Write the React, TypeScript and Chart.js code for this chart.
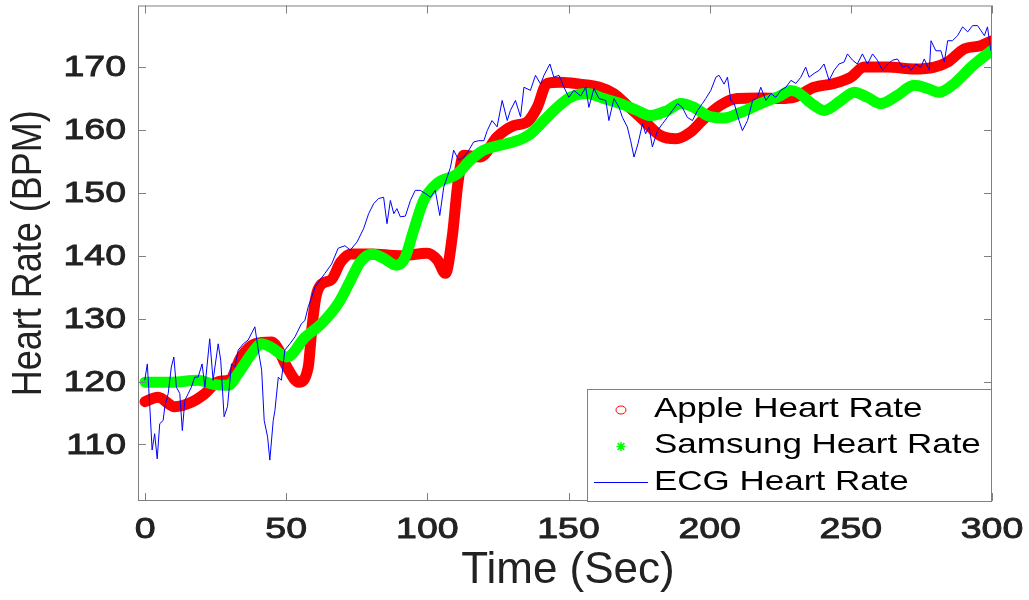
import React, { useEffect, useRef } from "react";
import { Chart, registerables } from "chart.js";

Chart.register(...registerables);

// ---------- data ----------
const xTicks = [0, 50, 100, 150, 200, 250, 300];
const yTicks = [110, 120, 130, 140, 150, 160, 170];

const seriesLabels = ["Apple Heart Rate", "Samsung Heart Rate", "ECG Heart Rate"];
const xTitle = "Time (Sec)";
const yTitle = "Heart Rate (BPM)";

const appleTime = [0, 4.6, 10.5, 16.4, 21, 26, 30, 34, 39, 44.8, 47, 50, 54.5, 57.8, 59.1, 60.5, 62.5, 66, 69.3, 73, 79.8, 90.4, 99.9, 103.6, 106.4, 108.8, 110.8, 112.9, 118.8, 124.7, 130.6, 135.4, 138.9, 142.4, 147, 154, 161, 166, 170.8, 176.7, 182.6, 188, 193.3, 198, 204, 209.8, 218, 225.2, 229.9, 237, 244, 250, 254.7, 263, 272.5, 279.6, 284.3, 290.2, 296, 300];
const appleBpm = [116.8, 117.5, 116, 116.7, 118, 120, 120.3, 123.9, 126, 126.3, 125.3, 122.5, 119.9, 122.3, 128.5, 133.4, 135.5, 136.2, 139, 140.3, 140.3, 140, 140.4, 139.3, 137.2, 143, 151.5, 156, 155.7, 158.9, 160.7, 161.3, 163.6, 167.4, 167.6, 167.3, 166.8, 165.8, 163.9, 161.5, 159.1, 158.6, 159.7, 161.8, 164, 165, 165.1, 165, 165.2, 166.8, 167.4, 168.4, 170, 170, 169.7, 170, 170.8, 172.9, 173.4, 174.2];

const samsungTime = [0, 9.3, 18.8, 24.7, 29.4, 33, 37.7, 41.2, 44.8, 50.2, 56.6, 62.5, 68.4, 72.7, 76.2, 80.5, 84.5, 89, 92, 95.1, 98.7, 103.4, 110.5, 115.2, 120, 125.9, 131.8, 136.5, 141.2, 146, 150.7, 156.6, 162.5, 168.4, 174.4, 179, 185, 189.7, 194.4, 199.2, 205, 211, 218, 225.2, 228.7, 231.1, 237, 240.5, 246.5, 251.2, 255.9, 260.6, 266.5, 272.4, 277.2, 281.3, 286.7, 292.6, 300];
const samsungBpm = [119.9, 119.9, 120.2, 119.5, 119.4, 121.3, 124.4, 126, 125.4, 123.9, 127, 129.2, 132.4, 136, 139, 140.3, 139.6, 138.5, 139.6, 144, 148.8, 151.5, 153, 155.2, 156.8, 157.6, 158.3, 159.4, 161.5, 163.6, 165.2, 165.8, 165, 164.2, 163.1, 162.3, 163.1, 164.2, 163.6, 162.3, 161.9, 162.8, 164.2, 165.5, 166.3, 166, 163.9, 163.1, 164.7, 166, 165.2, 164.2, 165.5, 167.1, 166.6, 166, 167.4, 170, 172.7];

const ecgTime = [-0.1, 0.8, 1.7, 2.5, 3.4, 4.3, 5.2, 6.4, 7.0, 8.2, 9.3, 10.2, 11.1, 12.3, 13.2, 14.1, 15.3, 16.4, 17.6, 18.8, 20.2, 21.2, 22.9, 24.1, 25.9, 26.8, 28.0, 29.2, 30.6, 31.8, 33.0, 34.8, 36.5, 38.9, 40.1, 41.3, 42.2, 43.4, 44.2, 45.4, 46.0, 47.2, 48.3, 49.5, 51.3, 53.1, 55.4, 56.6, 57.8, 59.0, 60.2, 61.9, 63.7, 66.1, 68.4, 70.8, 72.7, 75.1, 77.4, 79.2, 81.0, 82.7, 84.5, 85.7, 86.9, 88.1, 89.2, 90.4, 92.2, 94.0, 95.7, 97.5, 99.3, 101.1, 102.8, 104.4, 105.8, 107.0, 108.2, 109.3, 111.1, 112.9, 114.7, 116.4, 118.2, 120.0, 121.2, 122.9, 124.7, 126.5, 128.3, 129.4, 131.2, 133.0, 134.2, 136.5, 138.3, 140.1, 141.3, 143.4, 144.8, 146.6, 148.4, 150.1, 151.9, 154.3, 156.1, 157.2, 159.0, 160.8, 163.2, 164.3, 166.1, 167.9, 169.1, 170.8, 172.0, 173.2, 174.6, 176.2, 177.3, 178.5, 179.7, 181.5, 183.3, 185.0, 186.8, 188.6, 190.3, 192.1, 193.9, 195.7, 197.4, 198.6, 200.4, 202.2, 203.3, 205.1, 206.3, 207.5, 208.7, 210.4, 211.6, 213.4, 215.2, 216.9, 218.1, 219.9, 221.7, 223.4, 225.2, 227.0, 228.8, 230.5, 232.3, 234.0, 235.2, 237.0, 238.8, 240.5, 242.3, 244.1, 245.8, 247.6, 248.8, 250.6, 252.3, 254.1, 255.9, 257.7, 259.4, 261.2, 263.0, 264.8, 266.5, 268.3, 270.1, 271.3, 273.0, 274.8, 276.0, 277.8, 278.4, 280.1, 281.9, 283.1, 284.3, 286.0, 287.8, 289.6, 291.4, 293.1, 294.9, 296.1, 297.3, 298.4, 299.6];
const ecgBpm = [120.2, 122.8, 115.9, 109.1, 111.7, 107.7, 113.3, 113.8, 116, 118.1, 122.3, 123.9, 119.1, 118.1, 112.2, 117, 118.1, 119.1, 120.7, 120.7, 122.8, 119.1, 126.8, 120.2, 126, 123.4, 114.4, 116, 122.8, 122.3, 125, 126, 126.6, 128.7, 125, 121.8, 113.8, 111.2, 107.5, 113.8, 115.4, 120.7, 120.2, 125, 126, 127.1, 129.2, 129.7, 131.9, 133.4, 135, 136.1, 137.2, 138.7, 141.2, 141.6, 140.9, 142.2, 144.3, 146.7, 148.3, 149.1, 149.3, 145.1, 148.8, 146.7, 147.5, 146.2, 146.3, 148.8, 150.4, 150.4, 149.9, 149.3, 150.4, 146.4, 150.9, 152.5, 154.1, 156.8, 155.2, 155.7, 156.8, 158.1, 158.3, 158.3, 159.9, 161.5, 160.5, 164.7, 161.5, 163.1, 164.7, 162.1, 166.8, 166.3, 168.7, 167.3, 168.7, 170.5, 168.4, 168.7, 166.8, 165.2, 166.3, 165.4, 166.8, 163.6, 166.6, 165, 164.7, 161.5, 165, 163.6, 162, 160.5, 158.3, 155.7, 157.8, 161, 159.4, 160.5, 157.3, 159.9, 161, 162, 163.1, 164.2, 163.6, 162, 161.5, 163.1, 164.2, 165, 166.3, 168.4, 168.7, 167.3, 168.4, 164.7, 164.2, 161.5, 159.9, 161.5, 164.7, 165.2, 166.8, 164.7, 165.8, 165.2, 166.3, 166.8, 167.9, 167.4, 168.4, 170, 168.4, 169, 169.5, 170.5, 167.9, 169.5, 170.5, 170.8, 172.1, 171.1, 170.5, 172.1, 170.5, 172.1, 171.1, 169.5, 170.5, 171.1, 171.3, 170, 170.3, 169.5, 170.5, 170, 171.3, 169.5, 174.2, 172.6, 172.6, 170.8, 174.2, 174.2, 175, 176.4, 175.6, 176.6, 176.6, 175.8, 175, 176.4, 172.6];

// ---------- styles ----------
const W = 1029;
const H = 600;
const AREA = { left: 138, top: 5, right: 992, bottom: 501 };
const AXIS_COLOR = "#808080";
const TEXT_COLOR = "#222222";
const FONT = "'Liberation Sans', Arial, sans-serif";
const RED = "#ff0000";
const GREEN = "#00ff00";
const BLUE = "#0000ff";
const TEXT_STRETCH = 1.25;

const pts = (xs: number[], ys: number[]) => xs.map((x, i) => ({ x, y: ys[i] }));

function stretchedText(ctx: CanvasRenderingContext2D, text: string, x: number, y: number, align: CanvasTextAlign, stroke = 0) {
  ctx.save();
  ctx.translate(x, y);
  ctx.scale(TEXT_STRETCH, 1);
  ctx.textAlign = align;
  ctx.fillText(text, 0, 0);
  if (stroke > 0) {
    ctx.lineWidth = stroke;
    ctx.strokeStyle = ctx.fillStyle as string;
    ctx.strokeText(text, 0, 0);
  }
  ctx.restore();
}

const matlabAxes = {
  id: "matlabAxes",
  afterDraw(chart: any) {
    const { ctx, chartArea: a, scales } = chart;
    const xs = scales.x;
    const ys = scales.y;
    ctx.save();

    // box
    ctx.strokeStyle = AXIS_COLOR;
    ctx.lineWidth = 1;
    ctx.strokeRect(a.left + 0.5, a.top + 0.5, a.right - a.left - 1, a.bottom - a.top - 1);

    // inward ticks on all four sides
    const TL = 8;
    ctx.beginPath();
    xTicks.forEach((v) => {
      const px = Math.round(xs.getPixelForValue(v)) + 0.5;
      ctx.moveTo(px, a.bottom);
      ctx.lineTo(px, a.bottom - TL);
      ctx.moveTo(px, a.top);
      ctx.lineTo(px, a.top + TL);
    });
    yTicks.forEach((v) => {
      const py = Math.round(ys.getPixelForValue(v)) + 0.5;
      ctx.moveTo(a.left, py);
      ctx.lineTo(a.left + TL, py);
      ctx.moveTo(a.right, py);
      ctx.lineTo(a.right - TL, py);
    });
    ctx.stroke();

    // tick labels
    ctx.fillStyle = TEXT_COLOR;
    ctx.font = `30px ${FONT}`;
    ctx.textBaseline = "middle";
    yTicks.forEach((v) => {
      stretchedText(ctx, String(v), a.left - 12, ys.getPixelForValue(v) + 1, "right", 0.9);
    });
    xTicks.forEach((v) => {
      stretchedText(ctx, String(v), xs.getPixelForValue(v), a.bottom + 29, "center", 0.9);
    });

    // axis titles
    ctx.font = `44px ${FONT}`;
    ctx.textAlign = "center";
    ctx.textBaseline = "middle";
    ctx.fillText(xTitle, (a.left + a.right) / 2 + 3, 571);
    ctx.save();
    ctx.translate(29, (a.top + a.bottom) / 2);
    ctx.rotate(-Math.PI / 2);
    ctx.scale(1, 1.2);
    ctx.font = `36px ${FONT}`;
    ctx.fillText(yTitle, 0, 0);
    ctx.restore();

    // legend (inside, lower right)
    const lx = 587, ly = 389, lw = a.right - lx, lh = a.bottom - ly + 1;
    ctx.fillStyle = "#ffffff";
    ctx.fillRect(lx, ly, lw, lh);
    ctx.strokeStyle = AXIS_COLOR;
    ctx.lineWidth = 1;
    ctx.strokeRect(lx + 0.5, ly + 0.5, lw - 1, lh - 1);
    const rows = [409, 445.5, 482];
    // apple marker: circle
    ctx.strokeStyle = RED;
    ctx.lineWidth = 1;
    ctx.beginPath();
    ctx.ellipse(621, rows[0] + 1, 5, 4, 0, 0, Math.PI * 2);
    ctx.stroke();
    // samsung marker: asterisk
    ctx.strokeStyle = GREEN;
    ctx.lineWidth = 1.5;
    ctx.beginPath();
    const cx = 621, cy = rows[1] + 1, r = 4.5;
    ctx.moveTo(cx - r, cy); ctx.lineTo(cx + r, cy);
    ctx.moveTo(cx, cy - r); ctx.lineTo(cx, cy + r);
    ctx.moveTo(cx - r * 0.75, cy - r * 0.75); ctx.lineTo(cx + r * 0.75, cy + r * 0.75);
    ctx.moveTo(cx - r * 0.75, cy + r * 0.75); ctx.lineTo(cx + r * 0.75, cy - r * 0.75);
    ctx.stroke();
    // ecg marker: line
    ctx.strokeStyle = BLUE;
    ctx.lineWidth = 1;
    ctx.beginPath();
    ctx.moveTo(594, rows[2] + 0.5);
    ctx.lineTo(648, rows[2] + 0.5);
    ctx.stroke();
    ctx.fillStyle = "#000000";
    ctx.font = `28px ${FONT}`;
    ctx.textBaseline = "middle";
    seriesLabels.forEach((t, i) => stretchedText(ctx, t, 654, rows[i], "left"));

    ctx.restore();
  },
};

export default function App() {
  const ref = useRef<HTMLCanvasElement | null>(null);

  useEffect(() => {
    const canvas = ref.current;
    if (!canvas) return;
    const chart = new Chart(canvas, {
      type: "line",
      data: {
        datasets: [
          {
            label: seriesLabels[2],
            data: pts(ecgTime, ecgBpm),
            borderColor: BLUE,
            borderWidth: 1,
            pointRadius: 0,
            tension: 0,
          },
          {
            label: seriesLabels[1],
            data: pts(samsungTime, samsungBpm),
            borderColor: GREEN,
            borderWidth: 11,
            pointRadius: 0,
            cubicInterpolationMode: "monotone",
            borderCapStyle: "round",
            borderJoinStyle: "round",
          },
          {
            label: seriesLabels[0],
            data: pts(appleTime, appleBpm),
            borderColor: RED,
            borderWidth: 11,
            pointRadius: 0,
            cubicInterpolationMode: "monotone",
            borderCapStyle: "round",
            borderJoinStyle: "round",
          },
        ],
      },
      options: {
        animation: false,
        responsive: false,
        devicePixelRatio: 1,
        layout: { padding: { left: 0, top: AREA.top, right: W - AREA.right, bottom: 0 } },
        plugins: { legend: { display: false }, tooltip: { enabled: false }, title: { display: false } },
        scales: {
          x: {
            type: "linear",
            min: -2.5,
            max: 300,
            ticks: { display: false },
            grid: { display: false },
            border: { display: false },
            afterFit: (s: any) => { s.height = H - AREA.bottom; },
          },
          y: {
            type: "linear",
            min: 101,
            max: 179.8,
            ticks: { display: false },
            grid: { display: false },
            border: { display: false },
            afterFit: (s: any) => { s.width = AREA.left; },
          },
        },
      },
      plugins: [matlabAxes],
    } as any);
    if ((document as any).fonts && (document as any).fonts.ready) {
      (document as any).fonts.ready.then(() => { try { chart.update(); } catch (e) {} });
    }
    return () => chart.destroy();
  }, []);

  return (
    <div style={{ position: "fixed", left: 0, top: 0, width: W, height: H, background: "#ffffff" }}>
      <canvas ref={ref} width={W} height={H} style={{ display: "block", width: W + "px", height: H + "px" }} />
    </div>
  );
}
